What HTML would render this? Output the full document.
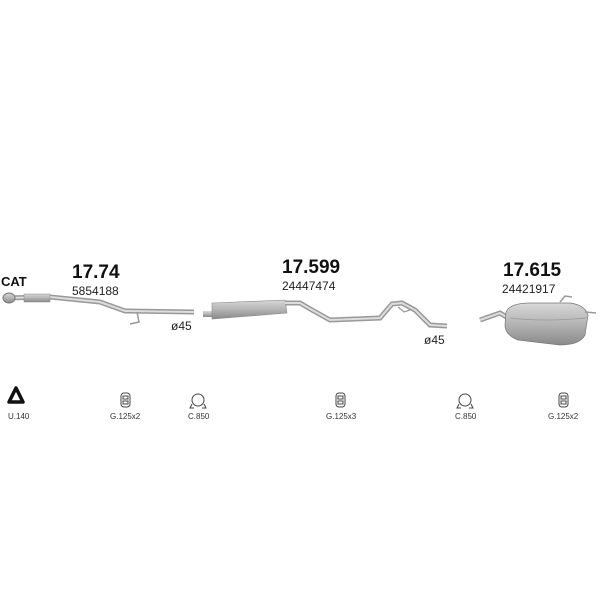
<!DOCTYPE html>
<html><head><meta charset="utf-8"><style>
html,body{margin:0;padding:0;background:#fff;width:600px;height:600px;overflow:hidden}
svg{display:block}
text{font-family:"Liberation Sans",Arial,sans-serif}
</style></head><body>
<svg width="600" height="600" viewBox="0 0 600 600" xmlns="http://www.w3.org/2000/svg">
<defs>
<linearGradient id="g" x1="0" y1="0" x2="0" y2="1">
<stop offset="0" stop-color="#d8d8d8"/><stop offset="0.5" stop-color="#b4b4b4"/><stop offset="1" stop-color="#8a8a8a"/>
</linearGradient>
</defs>
<text x="1" y="286" font-size="13" font-weight="bold" fill="#111">CAT</text>
<text x="72" y="278" font-size="19" font-weight="bold" fill="#111">17.74</text>
<text x="72" y="295" font-size="12" fill="#222">5854188</text>
<text x="282" y="273" font-size="19" font-weight="bold" fill="#111">17.599</text>
<text x="282" y="290" font-size="12" fill="#222">24447474</text>
<text x="503" y="276" font-size="19" font-weight="bold" fill="#111">17.615</text>
<text x="502" y="293" font-size="12" fill="#222">24421917</text>
<text x="171" y="330" font-size="12" fill="#222">ø45</text>
<text x="424" y="344" font-size="12" fill="#222">ø45</text>

<path d="M4,298 L50,297 L100,302 L125,311 L194,312" stroke="#999" stroke-width="5" fill="none"/>
<path d="M4,298 L50,297 L100,302 L125,311 L194,312" stroke="#ddd" stroke-width="2" fill="none"/>
<ellipse cx="9" cy="298" rx="6" ry="5" fill="url(#g)" stroke="#777"/>
<rect x="24" y="294" width="26" height="8" fill="url(#g)" stroke="#888" stroke-width="0.5"/>
<path d="M137,312 L139,322 L130,324" stroke="#999" stroke-width="1.5" fill="none"/>

<rect x="203" y="311" width="12" height="6" fill="url(#g)"/>
<path d="M212,303 L285,300 L287,313 L212,319 Z" fill="url(#g)" stroke="#888" stroke-width="0.6"/>
<path d="M285,303 L300,303 L312,310 L330,320 L380,318 L392,304 L402,303 L415,310 L430,325 L447,326" stroke="#999" stroke-width="5" fill="none"/>
<path d="M285,303 L300,303 L312,310 L330,320 L380,318 L392,304 L402,303 L415,310 L430,325 L447,326" stroke="#ddd" stroke-width="2" fill="none"/>
<path d="M398,307 L404,312 L410,310" stroke="#999" stroke-width="1.2" fill="none"/>

<path d="M480,320 L500,313 L508,318" stroke="#999" stroke-width="5" fill="none"/>
<path d="M480,320 L500,313 L508,318" stroke="#ddd" stroke-width="2" fill="none"/>
<path d="M506,312 Q510,303 530,303 L570,303 Q585,305 588,315 L585,335 Q580,345 560,345 L518,340 Q505,335 505,325 Z" fill="url(#g)" stroke="#777" stroke-width="0.7"/>
<path d="M510,318 Q545,322 586,318" stroke="#999" stroke-width="0.8" fill="none"/>
<path d="M585,312 L596,313 M560,302 L565,296 L572,297" stroke="#999" stroke-width="1.5" fill="none"/>

<path d="M16,388 L23,402 L9,402 Z" fill="none" stroke="#111" stroke-width="3.5" stroke-linejoin="round"/>
<text x="8" y="419" font-size="8" fill="#333">U.140</text>
<g fill="none" stroke="#444" stroke-width="1">
<rect x="121" y="393" width="9" height="14" rx="3"/><rect x="123" y="396" width="5" height="3"/><rect x="123" y="401" width="5" height="3"/>
<rect x="336" y="393" width="9" height="14" rx="3"/><rect x="338" y="396" width="5" height="3"/><rect x="338" y="401" width="5" height="3"/>
<rect x="559" y="393" width="9" height="14" rx="3"/><rect x="561" y="396" width="5" height="3"/><rect x="561" y="401" width="5" height="3"/>
<circle cx="198" cy="400" r="6"/><path d="M192,404 L190,408 L194,408 M204,404 L206,408 L202,408"/>
<circle cx="465" cy="400" r="6"/><path d="M459,404 L457,408 L461,408 M471,404 L473,408 L469,408"/>
</g>
<text x="110" y="419" font-size="8" fill="#333">G.125x2</text>
<text x="188" y="419" font-size="8" fill="#333">C.850</text>
<text x="326" y="419" font-size="8" fill="#333">G.125x3</text>
<text x="455" y="419" font-size="8" fill="#333">C.850</text>
<text x="548" y="419" font-size="8" fill="#333">G.125x2</text>
</svg>
</body></html>
